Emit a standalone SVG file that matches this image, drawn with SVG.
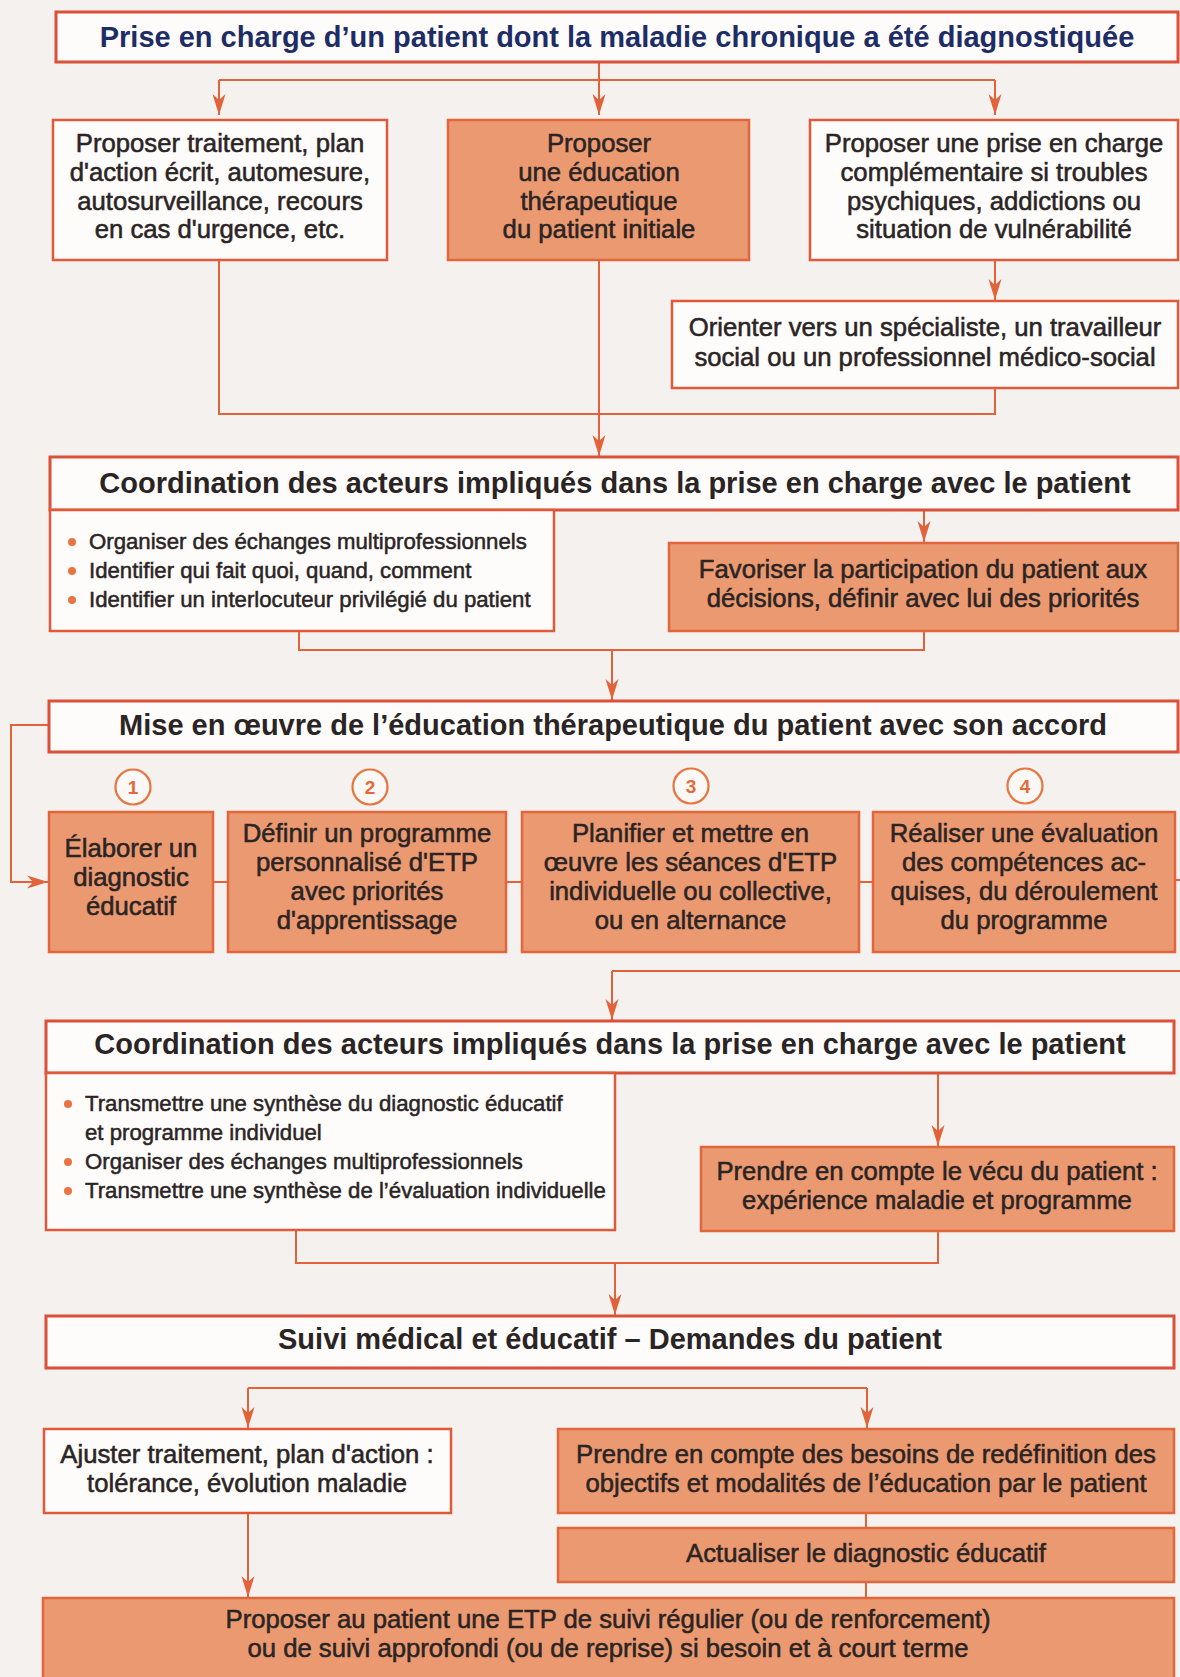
<svg xmlns="http://www.w3.org/2000/svg" width="1180" height="1677" viewBox="0 0 1180 1677">
<defs>
<style>
.bg{fill:#f4f1ef}
.w{fill:#fdfcfb;stroke:#e05a3a;stroke-width:2.5}
.wt{fill:#fdfcfb;stroke:#dc4f38;stroke-width:3}
.o{fill:#eb9970;stroke:#e2663c;stroke-width:2.5}
.c{fill:none;stroke:#e2623a;stroke-width:2}
.ca{fill:none;stroke:#e2623a;stroke-width:2;marker-end:url(#ah)}
text{font-family:"Liberation Sans",Arial,sans-serif;fill:#2b2424}
.t{font-size:25.7px;text-anchor:middle;stroke:#2b2424;stroke-width:0.55}
.h{font-size:29px;font-weight:bold;text-anchor:middle}
.b{font-size:22.2px;text-anchor:start;stroke:#2b2424;stroke-width:0.5}
.dot{fill:#e8743f}
.num{fill:#fbf8f6;stroke:#e8743f;stroke-width:2.2}
.nt{font-size:19px;font-weight:bold;fill:#e4683a;text-anchor:middle}
</style>
<marker id="ah" viewBox="-22 -8 24 16" refX="0" refY="0" markerWidth="24" markerHeight="16" markerUnits="userSpaceOnUse" orient="auto">
<path d="M0,0 L-21,-6.5 L-15,0 L-21,6.5 Z" fill="#e2623a"/>
</marker>
</defs>
<rect class="bg" x="0" y="0" width="1180" height="1677"/>

<g id="connectors">
<path class="ca" d="M599,62 V115"/>
<path class="c" d="M219,80 H995"/>
<path class="ca" d="M219,80 V115"/>
<path class="ca" d="M995,80 V115"/>
<path class="ca" d="M995,260 V300"/>
<path class="c" d="M219,260 V414 H995 V388"/>
<path class="ca" d="M599,260 V456"/>
<path class="ca" d="M924,510 V542"/>
<path class="c" d="M299,631 V650 H924 V631"/>
<path class="ca" d="M612,650 V700"/>
<path class="ca" d="M49,725 H11 V882 H48"/>
<path class="c" d="M213,882 H228 M506,882 H522 M859,882 H873"/>
<path class="c" d="M1175,880 H1195 V971 H612"/>
<path class="ca" d="M612,971 V1020"/>
<path class="ca" d="M938,1073 V1146"/>
<path class="c" d="M296,1230 V1263 H938 V1231"/>
<path class="ca" d="M615,1263 V1315"/>
<path class="c" d="M248,1388 H867"/>
<path class="ca" d="M248,1388 V1428"/>
<path class="ca" d="M867,1388 V1428"/>
<path class="ca" d="M248,1513 V1597"/>
<path class="c" d="M866,1513 V1528 M866,1582 V1598"/>
</g>

<g id="n-prise">
<rect class="wt" x="56" y="12" width="1122" height="50"/>
<text class="h" x="617" y="47" style="fill:#1e2d66">Prise en charge d’un patient dont la maladie chronique a été diagnostiquée</text>
</g>

<g id="n-traitement">
<rect class="w" x="53" y="120" width="334" height="140"/>
<text class="t" x="220" y="152">Proposer traitement, plan</text>
<text class="t" x="220" y="181">d'action écrit, automesure,</text>
<text class="t" x="220" y="209.5">autosurveillance, recours</text>
<text class="t" x="220" y="238">en cas d'urgence, etc.</text>
</g>

<g id="n-etp-initiale">
<rect class="o" x="448" y="120" width="301" height="140"/>
<text class="t" x="599" y="152">Proposer</text>
<text class="t" x="599" y="181">une éducation</text>
<text class="t" x="599" y="209.5">thérapeutique</text>
<text class="t" x="599" y="238">du patient initiale</text>
</g>

<g id="n-complementaire">
<rect class="w" x="810" y="120" width="368" height="140"/>
<text class="t" x="994" y="152">Proposer une prise en charge</text>
<text class="t" x="994" y="181">complémentaire si troubles</text>
<text class="t" x="994" y="209.5">psychiques, addictions ou</text>
<text class="t" x="994" y="238">situation de vulnérabilité</text>
</g>

<g id="n-orienter">
<rect class="w" x="672" y="301" width="506" height="87"/>
<text class="t" x="925" y="336">Orienter vers un spécialiste, un travailleur</text>
<text class="t" x="925" y="366">social ou un professionnel médico-social</text>
</g>

<g id="n-coord1">
<rect class="wt" x="50" y="457" width="1128" height="53"/>
<text class="h" x="615" y="493">Coordination des acteurs impliqués dans la prise en charge avec le patient</text>
</g>

<g id="n-coord1-list">
<rect class="w" x="50" y="510" width="504" height="121"/>
<circle class="dot" cx="72" cy="542" r="4"/>
<circle class="dot" cx="72" cy="571" r="4"/>
<circle class="dot" cx="72" cy="600" r="4"/>
<text class="b" x="89" y="549">Organiser des échanges multiprofessionnels</text>
<text class="b" x="89" y="578">Identifier qui fait quoi, quand, comment</text>
<text class="b" x="89" y="607">Identifier un interlocuteur privilégié du patient</text>
</g>

<g id="n-participation">
<rect class="o" x="669" y="543" width="509" height="88"/>
<text class="t" x="923" y="578">Favoriser la participation du patient aux</text>
<text class="t" x="923" y="607">décisions, définir avec lui des priorités</text>
</g>

<g id="n-mise-en-oeuvre">
<rect class="wt" x="49" y="701" width="1129" height="51"/>
<text class="h" x="613" y="735">Mise en œuvre de l’éducation thérapeutique du patient avec son accord</text>
</g>

<g id="n-step1">
<circle class="num" cx="133" cy="787" r="17.5"/>
<text class="nt" x="133" y="794">1</text>
<rect class="o" x="49" y="812" width="164" height="140"/>
<text class="t" x="131" y="857">Élaborer un</text>
<text class="t" x="131" y="886">diagnostic</text>
<text class="t" x="131" y="915">éducatif</text>
</g>

<g id="n-step2">
<circle class="num" cx="370" cy="787" r="17.5"/>
<text class="nt" x="370" y="794">2</text>
<rect class="o" x="228" y="812" width="278" height="140"/>
<text class="t" x="367" y="842">Définir un programme</text>
<text class="t" x="367" y="871">personnalisé d'ETP</text>
<text class="t" x="367" y="900">avec priorités</text>
<text class="t" x="367" y="929">d'apprentissage</text>
</g>

<g id="n-step3">
<circle class="num" cx="691" cy="786" r="17.5"/>
<text class="nt" x="691" y="793">3</text>
<rect class="o" x="522" y="812" width="337" height="140"/>
<text class="t" x="690.5" y="842">Planifier et mettre en</text>
<text class="t" x="690.5" y="871">œuvre les séances d'ETP</text>
<text class="t" x="690.5" y="900">individuelle ou collective,</text>
<text class="t" x="690.5" y="929">ou en alternance</text>
</g>

<g id="n-step4">
<circle class="num" cx="1025" cy="786" r="17.5"/>
<text class="nt" x="1025" y="793">4</text>
<rect class="o" x="873" y="812" width="302" height="140"/>
<text class="t" x="1024" y="842">Réaliser une évaluation</text>
<text class="t" x="1024" y="871">des compétences ac-</text>
<text class="t" x="1024" y="900">quises, du déroulement</text>
<text class="t" x="1024" y="929">du programme</text>
</g>

<g id="n-coord2">
<rect class="wt" x="46" y="1021" width="1128" height="52"/>
<text class="h" x="610" y="1054">Coordination des acteurs impliqués dans la prise en charge avec le patient</text>
</g>

<g id="n-coord2-list">
<rect class="w" x="46" y="1073" width="569" height="157"/>
<circle class="dot" cx="68" cy="1104" r="4"/>
<circle class="dot" cx="68" cy="1162" r="4"/>
<circle class="dot" cx="68" cy="1191" r="4"/>
<text class="b" x="85" y="1111">Transmettre une synthèse du diagnostic éducatif</text>
<text class="b" x="85" y="1140">et programme individuel</text>
<text class="b" x="85" y="1169">Organiser des échanges multiprofessionnels</text>
<text class="b" x="85" y="1198">Transmettre une synthèse de l’évaluation individuelle</text>
</g>

<g id="n-vecu">
<rect class="o" x="701" y="1147" width="473" height="84"/>
<text class="t" x="937" y="1180">Prendre en compte le vécu du patient :</text>
<text class="t" x="937" y="1209">expérience maladie et programme</text>
</g>

<g id="n-suivi">
<rect class="wt" x="46" y="1316" width="1128" height="52"/>
<text class="h" x="610" y="1349">Suivi médical et éducatif – Demandes du patient</text>
</g>

<g id="n-ajuster">
<rect class="w" x="44" y="1429" width="407" height="84"/>
<text class="t" x="247" y="1463">Ajuster traitement, plan d'action :</text>
<text class="t" x="247" y="1492">tolérance, évolution maladie</text>
</g>

<g id="n-besoins">
<rect class="o" x="558" y="1429" width="616" height="84"/>
<text class="t" x="866" y="1463">Prendre en compte des besoins de redéfinition des</text>
<text class="t" x="866" y="1492">objectifs et modalités de l’éducation par le patient</text>
</g>

<g id="n-actualiser">
<rect class="o" x="558" y="1528" width="616" height="54"/>
<text class="t" x="866" y="1562">Actualiser le diagnostic éducatif</text>
</g>

<g id="n-etp-suivi">
<rect class="o" x="43" y="1598" width="1131" height="85"/>
<text class="t" x="608" y="1628">Proposer au patient une ETP de suivi régulier (ou de renforcement)</text>
<text class="t" x="608" y="1657">ou de suivi approfondi (ou de reprise) si besoin et à court terme</text>
</g>
</svg>
